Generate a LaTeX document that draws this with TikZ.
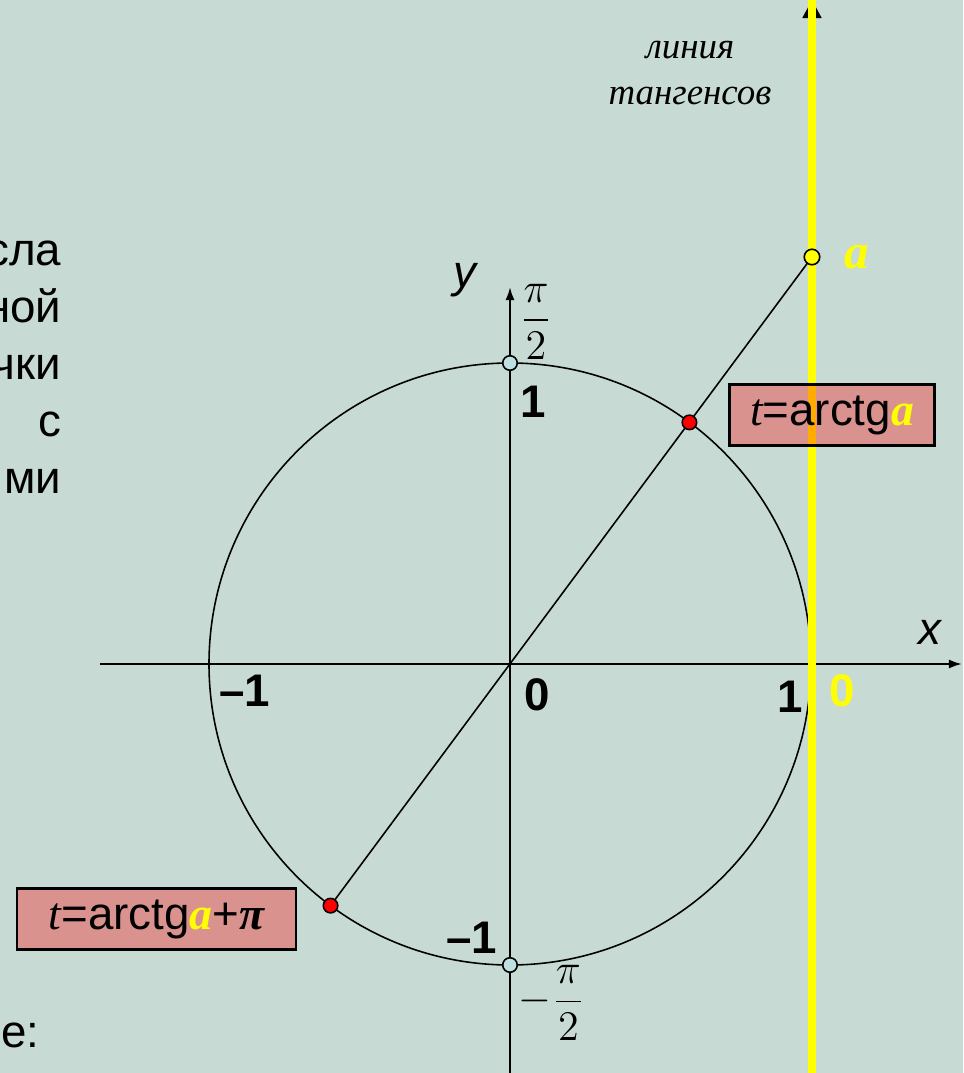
\documentclass[tikz,border=0pt]{standalone}
\usepackage{amsmath}
\usepackage{fontspec}
\setmainfont{Liberation Sans}
\newfontfamily\serifface{Liberation Serif}
\usetikzlibrary{arrows.meta,positioning}
\definecolor{board}{HTML}{C8DAD4}
\definecolor{dotblue}{HTML}{BFE0E3}
\definecolor{tanyellow}{HTML}{FFFF00}
\tikzset{
  axis/.style={-{Latex[length=1.3mm,width=0.9mm]}, line width=0.6pt, draw=black},
  thinline/.style={line width=0.45pt, draw=black},
  dot/.style={circle, draw=black, line width=0.45pt, inner sep=0pt, minimum size=1.45mm},
  numlbl/.style={font=\fontsize{13}{15}\selectfont\bfseries},
  varlbl/.style={font=\fontsize{13}{15}\selectfont\itshape},
  fraclbl/.style={font=\fontsize{11.5}{13}\selectfont},
  answer/.style={
    draw=black, line width=0.6pt, fill=red, fill opacity=0.33, text opacity=1,
    inner xsep=4pt, inner ysep=0pt, minimum height=0.61cm,
    font=\fontsize{13}{15}\selectfont
  },
  sidetext/.style={font=\fontsize{13}{16.2}\selectfont, align=right, inner sep=0pt}
}
\newcommand{\tvar}{{\serifface\itshape t}}
\newcommand{\avar}{{\serifface\bfseries\itshape\color{tanyellow}a}}

\begin{document}
\begin{tikzpicture}
    \fill[board] (-5.10,-4.09) rectangle (4.53,6.64);
    \useasboundingbox (-5.10,-4.09) rectangle (4.53,6.64);

    % points of the picture
    \coordinate (O) at (0,0);
    \coordinate (xl) at (-4.10,0);
    \coordinate (xr) at (4.52,0);
    \coordinate (yb) at (0,-4.09);
    \coordinate (yt) at (0,3.77);
    \coordinate (tb) at (3.02,-4.09);
    \coordinate (tt) at (3.02,6.64);
    \coordinate (tarr) at (3.02,6.30);
    \coordinate (p1) at (53.4:3.01);
    \coordinate (p2) at (233.4:3.01);
    \coordinate (pa) at (3.02,4.07);

    % left side text
    \node[sidetext, anchor=east] (side) at (-4.48,2.97) {сла\\ной\\чки\\с\\ми};
    \node[sidetext, anchor=east] (where) at (-4.70,-3.76) {де:};

    % axes and circle
    \draw[thinline] (O) circle (3.01);
    \draw[axis] (xl) -- (xr);
    \draw[axis] (yb) -- (yt);

    % tangent line
    \draw[-{Triangle[length=1.8mm,width=1.9mm]}, draw=black, line width=0.5pt] (tarr) -- (tt);
    \draw[draw=tanyellow, line width=2pt] (tb) -- (tt);

    \draw[thinline] (p2) -- (pa);

    \node[dot, fill=red] (r1) at (p1) {};
    \node[dot, fill=red] (r2) at (p2) {};
    \node[dot, fill=dotblue] (top) at (0,3.01) {};
    \node[dot, fill=dotblue] (bot) at (0,-3.01) {};
    \node[dot, fill=tanyellow, minimum size=1.55mm] (adot) at (pa) {};

    % labels
    \node[varlbl] (ylbl) at (-0.45,3.84) {y};
    \node[varlbl] (xlbl) at (4.20,0.32) {x};
    \node[fraclbl] (half) at (0.26,3.42) {$\dfrac{\pi}{2}$};
    \node[fraclbl] (mhalf) at (0.42,-3.39) {$-\dfrac{\pi}{2}$};
    \node[numlbl] (one) at (0.23,2.62) {1};
    \node[numlbl] (zero) at (0.27,-0.31) {0};
    \node[numlbl] (mone) at (-2.65,-0.27) {–1};
    \node[numlbl] (onex) at (2.80,-0.33) {1};
    \node[numlbl, text=tanyellow] (zerot) at (3.32,-0.27) {0};
    \node[numlbl] (money) at (-0.38,-2.74) {–1};
    \node[font=\fontsize{14}{16}\serifface\bfseries\itshape, text=tanyellow, right=0.12cm of adot] (alabel) {a};
    \node[font=\fontsize{10.5}{13}\selectfont\serifface\itshape, align=center] (tanname) at (1.80,5.91)
      {линия\\тангенсов};

    % answers
    \node[answer, minimum width=2.05cm] (ans1) at (3.22,2.49) {\tvar=arctg\avar};
    \node[answer, minimum width=2.79cm] (ans2) at (-3.535,-2.55)
      {\tvar=arctg\avar+{\serifface\bfseries\itshape π}};
\end{tikzpicture}
\end{document}
